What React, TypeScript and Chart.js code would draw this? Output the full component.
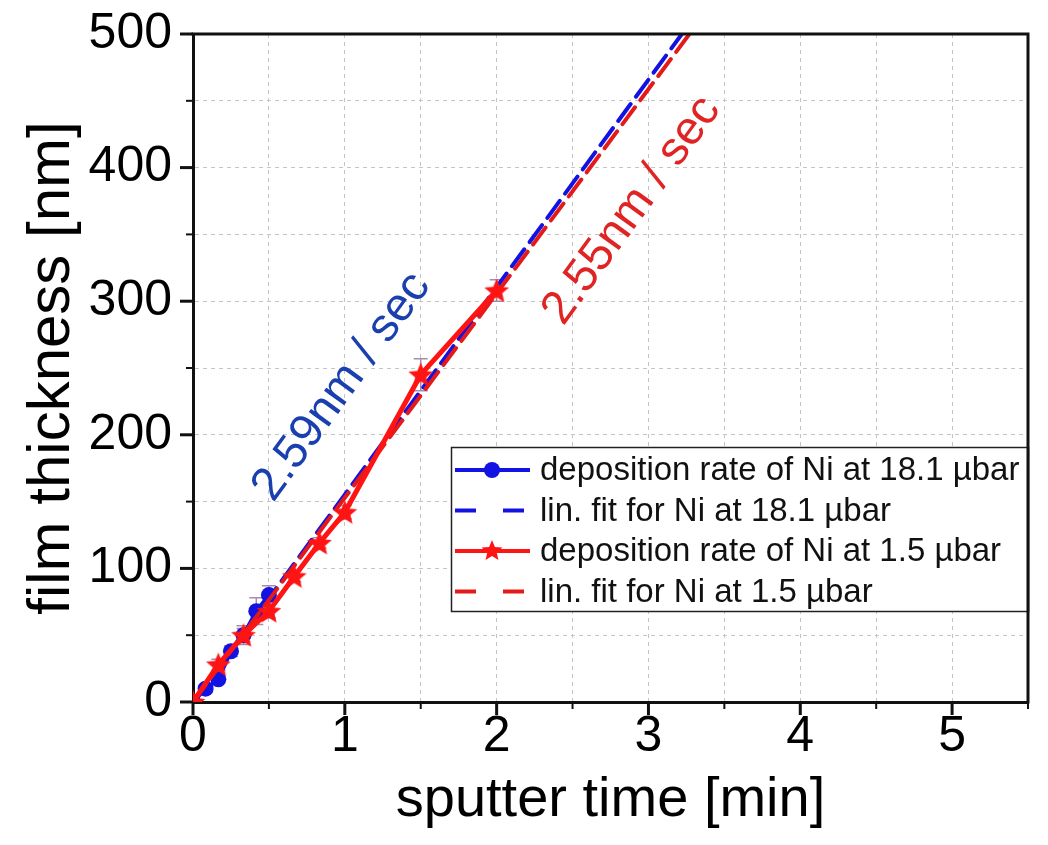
import React, { useEffect, useRef } from 'react';
import { Chart, registerables } from 'chart.js';
Chart.register(...registerables);

// ---- data ----
const blueTime = [0, 0.083, 0.167, 0.25, 0.333, 0.417, 0.5];
const blueThickness = [0, 10, 17, 38, 50, 68, 80];
const blueErr = [0, 3, 3, 4, 5, 10, 7];

const redTime = [0, 0.167, 0.333, 0.5, 0.667, 0.833, 1, 1.5, 2];
const redThickness = [0, 28, 50, 68, 94, 119, 142, 245, 308];
const redErr = [0, 4, 7, 5, 4, 4, 5, 12, 8];

const blueFitTime = [0, 3.22];
const blueFitThickness = [0, 500];
const redFitTime = [0, 3.27];
const redFitThickness = [0, 500];

const seriesLabels = [
  'deposition rate of Ni at 18.1 µbar',
  'lin. fit for Ni at 18.1 µbar',
  'deposition rate of Ni at 1.5 µbar',
  'lin. fit for Ni at 1.5 µbar',
];

const annotations = [
  { text: '2.59nm / sec', x: 0.98, y: 236, color: '#1a3fae' },
  { text: '2.55nm / sec', x: 2.89, y: 368, color: '#e02424' },
];

const xTitle = 'sputter time [min]';
const yTitle = 'film thickness [nm]';

const BLUE = '#1212e2';
const RED = '#ff1414';
const FONT = '"Liberation Sans", Arial, Helvetica, sans-serif';

const pts = (xs: number[], ys: number[]) => xs.map((x, i) => ({ x, y: ys[i] }));

function makeStar(size: number, color: string) {
  const c = document.createElement('canvas');
  c.width = size;
  c.height = size;
  const g = c.getContext('2d')!;
  const cx = size / 2, cy = size / 2 + 1, R = size / 2, r = R * 0.45;
  g.beginPath();
  for (let i = 0; i < 10; i++) {
    const a = -Math.PI / 2 + (i * Math.PI) / 5;
    const rad = i % 2 ? r : R;
    const px = cx + rad * Math.cos(a), py = cy + rad * Math.sin(a);
    if (i) g.lineTo(px, py); else g.moveTo(px, py);
  }
  g.closePath();
  g.fillStyle = color;
  g.fill();
  return c;
}

export default function App() {
  const ref = useRef<HTMLCanvasElement | null>(null);

  useEffect(() => {
    const canvas = ref.current!;
    const star = makeStar(26, RED);
    const legendStar = makeStar(22, RED);

    const errorBars = {
      id: 'errorBars',
      beforeDatasetsDraw(chart: any) {
        const { ctx, scales } = chart;
        const xs = scales.x, ys = scales.y;
        ctx.save();
        ctx.strokeStyle = 'rgba(150,120,160,0.85)';
        ctx.lineWidth = 1.5;
        const sets: [number[], number[], number[]][] = [
          [blueTime, blueThickness, blueErr],
          [redTime, redThickness, redErr],
        ];
        for (const [t, v, e] of sets) {
          t.forEach((tx, i) => {
            if (!e[i]) return;
            const px = xs.getPixelForValue(tx);
            const y1 = ys.getPixelForValue(v[i] - e[i]);
            const y2 = ys.getPixelForValue(v[i] + e[i]);
            ctx.beginPath();
            ctx.moveTo(px, y1); ctx.lineTo(px, y2);
            ctx.moveTo(px - 7, y1); ctx.lineTo(px + 7, y1);
            ctx.moveTo(px - 7, y2); ctx.lineTo(px + 7, y2);
            ctx.stroke();
          });
        }
        ctx.restore();
      },
    };

    const decor = {
      id: 'decor',
      afterDatasetsDraw(chart: any) {
        const { ctx, scales } = chart;
        const xs = scales.x, ys = scales.y;
        // annotations
        ctx.save();
        ctx.font = `47px ${FONT}`;
        ctx.textAlign = 'center';
        ctx.textBaseline = 'middle';
        for (const a of annotations) {
          ctx.save();
          ctx.translate(xs.getPixelForValue(a.x), ys.getPixelForValue(a.y));
          ctx.rotate((-54 * Math.PI) / 180);
          ctx.fillStyle = a.color;
          ctx.fillText(a.text, 0, 0);
          ctx.restore();
        }
        ctx.restore();

        // legend
        const L = 451, T = 447, R = chart.chartArea.right, B = 611;
        ctx.save();
        ctx.fillStyle = '#fff';
        ctx.fillRect(L, T, R - L, B - T);
        ctx.strokeStyle = '#222';
        ctx.lineWidth = 1.5;
        ctx.strokeRect(L + 0.5, T + 0.5, R - L, B - T);
        const ds = chart.data.datasets;
        const order = [0, 1, 2, 3];
        ctx.font = `33px ${FONT}`;
        ctx.textBaseline = 'middle';
        ctx.textAlign = 'left';
        order.forEach((di, row) => {
          const d = ds[di];
          const y = T + 23 + row * 40.5;
          ctx.save();
          ctx.strokeStyle = d.borderColor;
          ctx.lineWidth = 4;
          ctx.lineCap = 'butt';
          if (d.borderDash && d.borderDash.length) ctx.setLineDash([21, 27]);
          ctx.beginPath();
          ctx.moveTo(455, y);
          ctx.lineTo(530, y);
          ctx.stroke();
          ctx.restore();
          if (di === 0) {
            ctx.beginPath();
            ctx.arc(492, y, 8, 0, Math.PI * 2);
            ctx.fillStyle = BLUE;
            ctx.fill();
          } else if (di === 2) {
            ctx.drawImage(legendStar, 492 - 11, y - 12);
          }
          ctx.fillStyle = '#111';
          ctx.fillText(d.label, 540, y + 1);
        });
        ctx.restore();
      },
      afterDraw(chart: any) {
        const { ctx, chartArea: ca, scales } = chart;
        ctx.save();
        ctx.strokeStyle = '#111';
        // top & right frame
        ctx.lineWidth = 3;
        ctx.beginPath();
        ctx.moveTo(ca.left - 1.5, ca.top);
        ctx.lineTo(ca.right, ca.top);
        ctx.lineTo(ca.right, ca.bottom + 1.5);
        ctx.stroke();
        // ticks
        for (const t of scales.x.ticks) {
          const px = scales.x.getPixelForValue(t.value);
          const major = Math.abs(t.value % 1) < 1e-6;
          ctx.lineWidth = major ? 3 : 2;
          ctx.beginPath();
          ctx.moveTo(px, ca.bottom);
          ctx.lineTo(px, ca.bottom + (major ? 13 : 7));
          ctx.stroke();
        }
        for (const t of scales.y.ticks) {
          const py = scales.y.getPixelForValue(t.value);
          const major = Math.abs(t.value % 100) < 1e-6;
          ctx.lineWidth = major ? 3 : 2;
          ctx.beginPath();
          ctx.moveTo(ca.left, py);
          ctx.lineTo(ca.left - (major ? 13 : 7), py);
          ctx.stroke();
        }
        ctx.restore();
      },
    };

    const chart = new Chart(canvas, {
      type: 'scatter',
      data: {
        datasets: [
          {
            label: seriesLabels[0],
            data: pts(blueTime, blueThickness),
            showLine: true,
            borderColor: BLUE,
            backgroundColor: BLUE,
            borderWidth: 4,
            pointRadius: 8,
            pointHoverRadius: 8,
            pointBorderWidth: 0,
            order: 4,
          },
          {
            label: seriesLabels[1],
            data: pts(blueFitTime, blueFitThickness),
            showLine: true,
            borderColor: BLUE,
            borderWidth: 4,
            borderDash: [21, 9],
            borderCapStyle: 'round',
            pointRadius: 0,
            order: 3,
          },
          {
            label: seriesLabels[2],
            data: pts(redTime, redThickness),
            showLine: true,
            borderColor: RED,
            backgroundColor: RED,
            borderWidth: 5,
            pointStyle: star as any,
            pointRadius: 13,
            order: 1,
          },
          {
            label: seriesLabels[3],
            data: pts(redFitTime, redFitThickness),
            showLine: true,
            borderColor: '#e41a1a',
            borderWidth: 4,
            borderDash: [21, 9],
            borderCapStyle: 'round',
            pointRadius: 0,
            order: 2,
          },
        ],
      },
      options: {
        animation: false,
        responsive: false,
        devicePixelRatio: 1,
        layout: { padding: { left: 0, top: 32, right: 20, bottom: 0 } },
        plugins: { legend: { display: false }, tooltip: { enabled: false } },
        scales: {
          x: {
            type: 'linear',
            min: 0,
            max: 5.5,
            ticks: {
              stepSize: 0.5,
              autoSkip: false,
              maxRotation: 0,
              padding: 5,
              color: '#000',
              font: { family: FONT, size: 50, lineHeight: 1 },
              callback: (v: any) => (Math.abs(v % 1) < 1e-6 ? String(v) : ''),
            },
            grid: {
              color: '#c4c4c4',
              lineWidth: 1,
              tickLength: 5,
              tickColor: 'rgba(0,0,0,0)',
            },
            border: { display: true, color: '#111', width: 3, dash: [4, 4] },
            title: {
              display: true,
              text: xTitle,
              color: '#000',
              font: { family: FONT, size: 56 },
              padding: { top: 0, bottom: 11 },
            },
            afterFit: (s: any) => { s.height = 143; },
          },
          y: {
            type: 'linear',
            min: 0,
            max: 500,
            ticks: {
              stepSize: 50,
              autoSkip: false,
              padding: 9,
              color: '#000',
              font: { family: FONT, size: 50, lineHeight: 1 },
              callback: (v: any) => (Math.abs(v % 100) < 1e-6 ? String(v) : ''),
            },
            grid: {
              color: '#c4c4c4',
              lineWidth: 1,
              tickLength: 12,
              tickColor: 'rgba(0,0,0,0)',
            },
            border: { display: true, color: '#111', width: 3, dash: [4, 4] },
            title: {
              display: true,
              text: yTitle,
              color: '#000',
              font: { family: FONT, size: 60 },
              padding: { top: 16, bottom: 0 },
            },
            afterFit: (s: any) => { s.width = 193; },
          },
        },
      },
      plugins: [errorBars, decor],
    } as any);

    return () => chart.destroy();
  }, []);

  return (
    <div style={{ position: 'absolute', left: 0, top: 0, width: 1048, height: 845, background: '#fff' }}>
      <canvas ref={ref} width={1048} height={845} style={{ display: 'block', width: 1048, height: 845 }} />
    </div>
  );
}
